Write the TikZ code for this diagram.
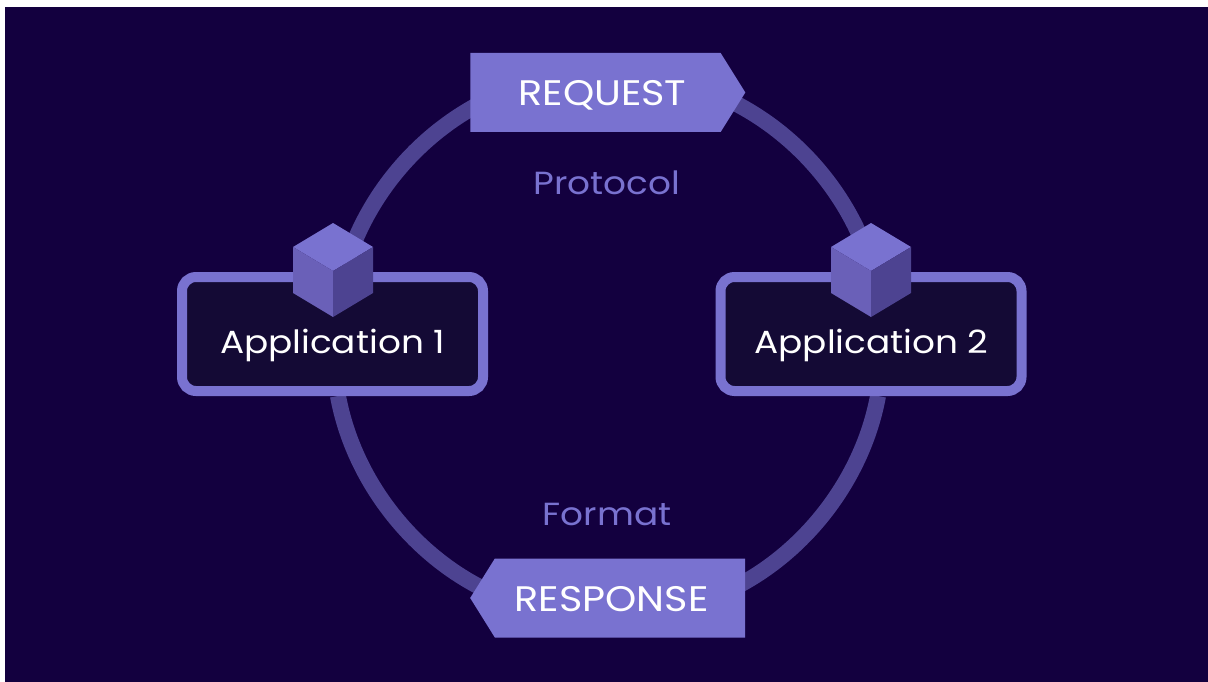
\documentclass[tikz,border=0pt]{standalone}
\usepackage{fontspec}
\setmainfont[FakeStretch=1.12]{Poppins}
\usetikzlibrary{positioning, shapes.symbols, backgrounds}

\definecolor{bgcolor}{HTML}{13003F}
\definecolor{boxcolor}{HTML}{140A35}
\definecolor{accent}{HTML}{7972D0}
\definecolor{ringcolor}{HTML}{4D4391}
\definecolor{cubeleft}{HTML}{6A60B8}

\tikzset{
    ring/.style={draw=ringcolor, line width=16pt, looseness=0.88},
    appbox/.style={draw=accent, fill=boxcolor, line width=10pt, rounded corners=14pt,
        minimum width=301pt, minimum height=114pt},
    apptext/.style={text=white, font=\fontsize{32}{36}\selectfont},
    tag/.style={signal, fill=accent, draw=none, inner sep=0pt, signal pointer angle=116,
        minimum width=275pt, minimum height=79pt, text=white, text height=33pt, text depth=7pt,
        font=\fontsize{35.5}{38}\selectfont},
    caption/.style={text=accent, font=\fontsize{32}{36}\selectfont},
    cubeicon/.pic={
        \fill[accent] (0,-42) -- (40,-18) -- (0,6) -- (-40,-18) -- cycle;
        \fill[cubeleft] (-40,-18) -- (0,6) -- (0,52) -- (-40,28) -- cycle;
        \fill[ringcolor] (40,-18) -- (0,6) -- (0,52) -- (40,28) -- cycle;
    }
}

\begin{document}
\begin{tikzpicture}[x=1pt, y=-1pt]
    \useasboundingbox (0,0) rectangle (1208,682);

    \node[appbox] (app1) at (332.5,334) {};
    \node[appbox] (app2) at (871,334) {};
    \node[apptext] (app1text) at (332.5,345) {Application 1};
    \node[apptext] (app2text) at (871.5,345) {Application 2};
    \coordinate (cube1) at (333,265);
    \coordinate (cube2) at (871,265);

    \node[tag, signal to=east] (request) at (595.5,92.5) {\hspace{14pt}REQUEST};
    \node[tag, signal to=west] (response) at (620,598) {RESPONSE\kern17pt};

    \node[caption] (protocol) at (607,183) {Protocol};
    \node[caption] (format) at (607,514) {Format};

    \begin{scope}[on background layer]
        \fill[white] (0,0) rectangle (1208,682);
        \fill[bgcolor] (5,7) rectangle (1208,682);
        \draw[ring] ([xshift=20pt, yshift=-6pt]request.west) to[bend right=23.75] ([xshift=13pt]cube1);
        \draw[ring] ([xshift=-20pt, yshift=-6pt]request.east) to[bend left=23.75] (cube2);
        \draw[ring] ([xshift=20pt, yshift=6pt]response.west) to[bend left=27.4] ([xshift=5.5pt]app1.south);
        \draw[ring] ([xshift=-20pt, yshift=6pt]response.east) to[bend right=27.4] ([xshift=7pt]app2.south);
    \end{scope}

    \pic at (cube1) {cubeicon};
    \pic at (cube2) {cubeicon};
\end{tikzpicture}
\end{document}
